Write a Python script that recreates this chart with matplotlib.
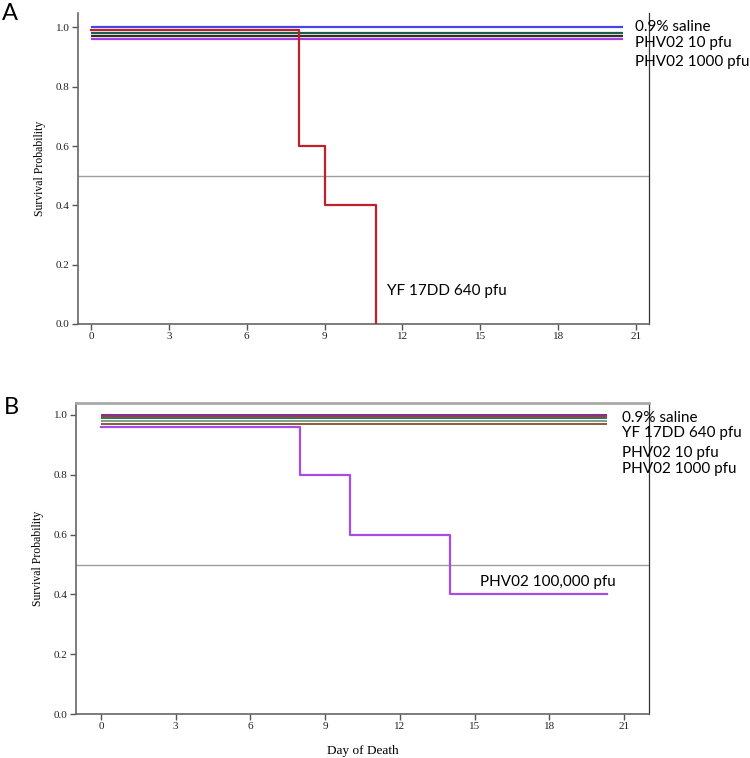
import matplotlib
matplotlib.use("Agg")
import matplotlib.pyplot as plt

# ---------------- data ----------------
# Panel A
a_flat_labels = ["0.9% saline", "PHV02 10 pfu", "PHV02 1000 pfu", "other"]
a_flat_levels = [1.00, 0.98, 0.97, 0.96]
a_flat_colors = ["#4646e6", "#1b5e4f", "#3b2a1e", "#a040e0"]
a_flat_end = 20.5
a_red_days = [0, 8, 9, 11]
a_red_surv = [0.99, 0.60, 0.40, 0.00]

# Panel B
b_flat_levels = [1.00, 0.995, 0.99, 0.98, 0.97]
b_flat_colors = ["#3c3ce0", "#d02030", "#1f7a60", "#7fa08a", "#8b5a3c"]
b_flat_end = 20.3
b_purple_days = [0, 8, 10, 14, 20.3]
b_purple_surv = [0.96, 0.80, 0.60, 0.40, 0.40]

x_ticks = [0, 3, 6, 9, 12, 15, 18, 21]
y_ticks = [0.0, 0.2, 0.4, 0.6, 0.8, 1.0]

a_texts = [("0.9% saline", 20.96, 1.003), ("PHV02 10 pfu", 20.96, 0.946),
           ("PHV02 1000 pfu", 20.96, 0.885), ("YF 17DD 640 pfu", 11.4, 0.11)]
b_texts = [("0.9% saline", 20.92, 0.99), ("YF 17DD 640 pfu", 20.92, 0.94),
           ("PHV02 10 pfu", 20.92, 0.872), ("PHV02 1000 pfu", 20.92, 0.819),
           ("PHV02 100,000 pfu", 15.2, 0.443)]

# ---------------- figure ----------------
fig = plt.figure(figsize=(7.5, 7.58), dpi=100)
axA = fig.add_axes([0.104, 0.5726, 0.7613, 0.4103])
axB = fig.add_axes([0.1013, 0.0580, 0.764, 0.4103])

serif = "Liberation Serif"
sans = "Lato"


def style(ax, xlim, ylim, top_spine):
    ax.set_xlim(*xlim)
    ax.set_ylim(*ylim)
    ax.set_xticks(x_ticks)
    ax.set_yticks(y_ticks)
    ax.set_xticklabels([str(t) for t in x_ticks], fontfamily=serif, fontsize=8)
    ax.set_yticklabels([f"{t:.1f}" for t in y_ticks], fontfamily=serif, fontsize=8)
    ax.tick_params(direction="out", length=4, width=1, color="#555555", pad=2,
                   labelcolor="#222222")
    for s in ["left", "bottom"]:
        ax.spines[s].set_color("#666666")
        ax.spines[s].set_linewidth(1.2)
    ax.spines["right"].set_color("#333333")
    ax.spines["right"].set_linewidth(0.9)
    if top_spine:
        ax.spines["top"].set_color("#a8a8a8")
        ax.spines["top"].set_linewidth(2.0)
    else:
        ax.spines["top"].set_visible(False)
    ax.axhline(0.5, color="#a0a0a0", lw=1.0, zorder=1)
    ax.set_ylabel("Survival Probability", fontfamily=serif, fontsize=8.5, labelpad=7)


# Panel A
style(axA, (-0.5, 21.5), (0, 1.049), False)
for lvl, col in zip(a_flat_levels, a_flat_colors):
    axA.plot([0, a_flat_end], [lvl, lvl], color=col, lw=1.6, solid_capstyle="butt", zorder=3)
axA.plot(a_red_days, a_red_surv, drawstyle="steps-post", color="#c0202a", lw=1.6, zorder=4)
for t, x, y in a_texts:
    axA.text(x, y, t, fontfamily=sans, fontsize=11, va="center", ha="left",
             clip_on=False, zorder=5)

# Panel B
style(axB, (-1.0, 22.0), (0, 1.04), True)
for lvl, col in zip(b_flat_levels, b_flat_colors):
    axB.plot([0, b_flat_end], [lvl, lvl], color=col, lw=1.4, solid_capstyle="butt", zorder=3)
axB.plot(b_purple_days, b_purple_surv, drawstyle="steps-post", color="#a64de8", lw=1.6, zorder=4)
for t, x, y in b_texts:
    axB.text(x, y, t, fontfamily=sans, fontsize=11, va="center", ha="left",
             clip_on=False, zorder=5)
axB.set_xlabel("Day of Death", fontfamily=serif, fontsize=9.5, labelpad=10)

# Panel letters
fig.text(0.003, 0.982, "A", fontfamily=sans, fontsize=17, va="center", ha="left")
fig.text(0.005, 0.463, "B", fontfamily=sans, fontsize=17, va="center", ha="left")

fig.savefig("out.png", dpi=100)
